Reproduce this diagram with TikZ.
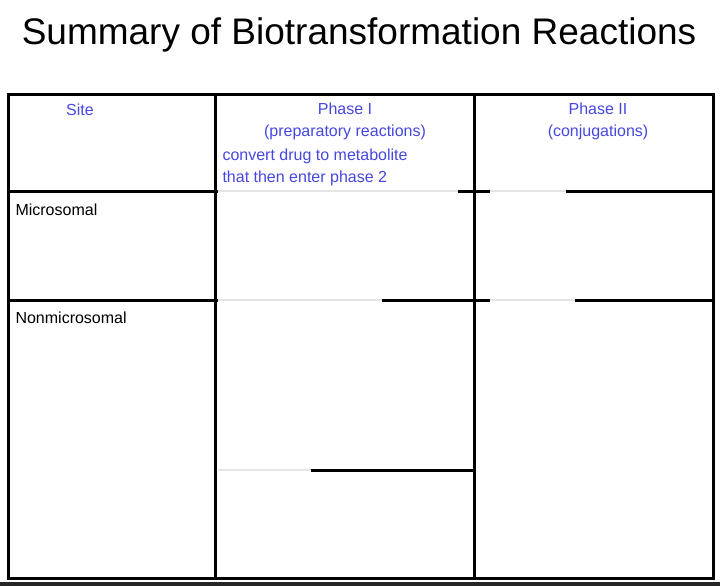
\documentclass[tikz,border=0pt]{standalone}
\usepackage{fontspec}
\setmainfont{Liberation Sans}
\definecolor{headblue}{RGB}{70,70,225}
\begin{document}
\begin{tikzpicture}[x=1pt,y=-1pt,
    rule/.style={line width=3pt},
    head/.style={text=headblue, font=\fontsize{16}{22}\selectfont, align=center},
    rowlabel/.style={font=\fontsize{16}{20}\selectfont, anchor=west}]
  \useasboundingbox (0,0) rectangle (720,586);
  % title
  \node (title) at (359,35) {\fontsize{37}{42}\selectfont Summary of Biotransformation Reactions};
  % frame
  \coordinate (nw) at (8,94);
  \coordinate (se) at (713,578);
  \draw[rule] (nw) rectangle (se);
  \fill[black!85] (0,582) rectangle (720,586);
  \draw[rule] (215,94) -- (215,578);
  \draw[rule] (474,94) -- (474,578);
  % row rules (partly faded)
  \draw[rule] (8,191) -- (218,191);
  \draw[rule] (458,191) -- (490,191);
  \draw[rule] (566,191) -- (713,191);
  \draw[rule] (8,300) -- (218,300);
  \draw[rule] (382,300) -- (490,300);
  \draw[rule] (575,300) -- (713,300);
  \draw[rule] (311,470) -- (474,470);
  \draw[line width=2pt, black!10] (218,191) -- (458,191) (490,191) -- (566,191)
    (218,300) -- (382,300) (490,300) -- (575,300) (218,470) -- (311,470);
  % headings
  \node[head] (site) at (80,110) {Site};
  \node[head, anchor=north] (phaseone) at (345,99) {Phase I\\(preparatory reactions)};
  \node[head, align=left, anchor=north west] (convert) at (219,145) {convert drug to metabolite\\that then enter phase 2};
  \node[head, anchor=north] (phasetwo) at (598,99) {Phase II\\(conjugations)};
  % row labels
  \node[rowlabel] (micro) at (12,210) {Microsomal};
  \node[rowlabel] (nonmicro) at (12,318) {Nonmicrosomal};
\end{tikzpicture}
\end{document}
